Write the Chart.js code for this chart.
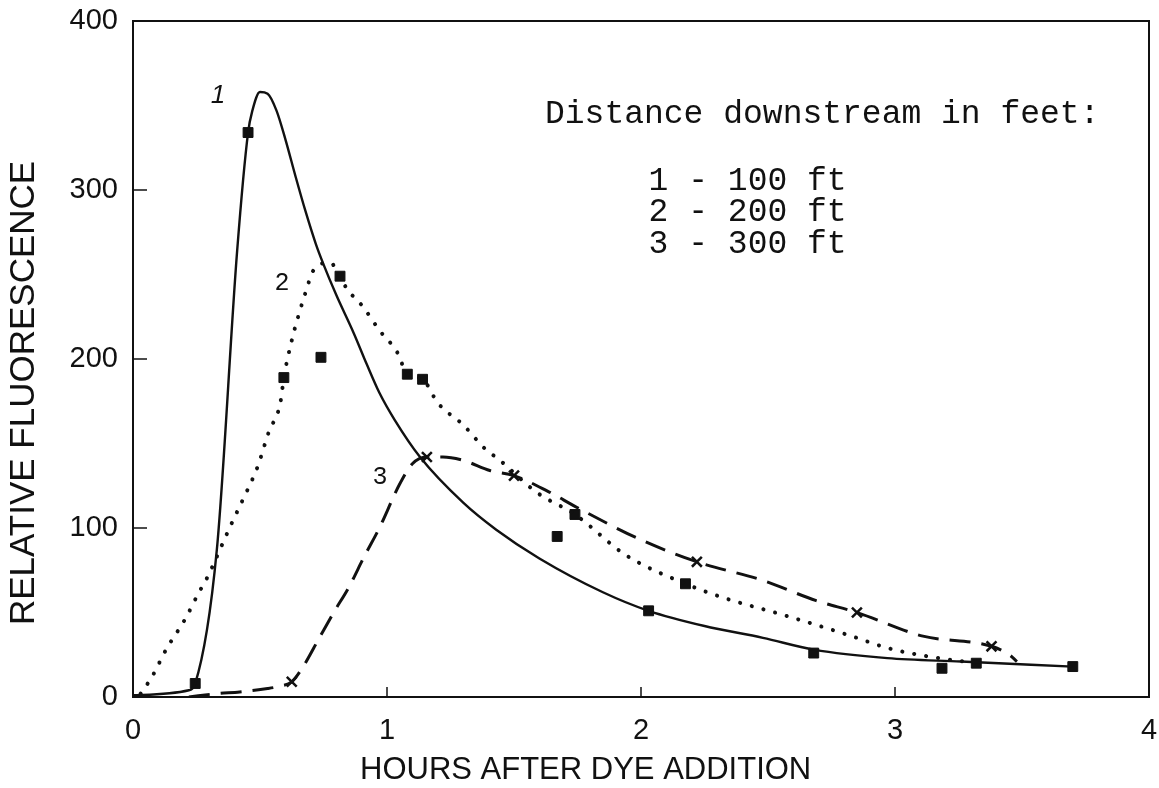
<!DOCTYPE html>
<html>
<head>
<meta charset="utf-8">
<script src="https://cdn.jsdelivr.net/npm/chart.js@4.4.1/dist/chart.umd.min.js"></script>
<style>
  html, body { margin: 0; padding: 0; background: #ffffff; }
  canvas { display: block; }
</style>
</head>
<body>
<canvas id="c" width="1159" height="788"></canvas>
<script>
// ---- Data ----
// Curve 1 (100 ft, solid line)
const curve1Hours  = [0, 0.22, 0.245, 0.33, 0.41, 0.453, 0.47, 0.50, 0.53, 0.565, 0.60, 0.64, 0.68, 0.72, 0.75, 0.80, 0.87, 0.92, 0.97, 1.03, 1.13, 1.30, 1.43, 1.60, 1.85, 2.03, 2.25, 2.48, 2.68, 2.97, 3.26, 3.70];
const curve1Values = [1, 4, 8, 87, 264, 334, 347, 358, 357, 347, 330, 308, 287, 268, 256, 238, 215, 197, 180, 164, 142, 115, 99, 82, 62, 51, 42, 35, 28, 23, 21, 18];
// Curve 2 (200 ft, dotted line)
const curve2Hours  = [0.03, 0.075, 0.13, 0.205, 0.26, 0.29, 0.38, 0.43, 0.49, 0.535, 0.58, 0.594, 0.625, 0.65, 0.685, 0.705, 0.736, 0.776, 0.815, 0.84, 0.905, 0.97, 1.04, 1.08, 1.14, 1.20, 1.30, 1.385, 1.445, 1.59, 1.74, 1.94, 2.175, 2.34, 2.55, 2.83, 2.97, 3.13, 3.32];
const curve2Values = [2, 12, 28, 46, 62, 70, 100, 116, 136, 157, 174, 189, 211, 225, 242, 251, 256, 257, 249, 242, 231, 217, 204, 191, 188, 174, 161, 147, 140, 121, 108, 84, 67, 58, 49, 36, 29, 24, 20];
// Curve 3 (300 ft, dashed line)
const curve3Hours  = [0.22, 0.33, 0.42, 0.53, 0.58, 0.625, 0.67, 0.73, 0.79, 0.85, 0.91, 0.97, 1.05, 1.10, 1.157, 1.22, 1.30, 1.405, 1.50, 1.63, 1.75, 2.00, 2.22, 2.48, 2.69, 2.85, 3.11, 3.38, 3.45, 3.48];
const curve3Values = [0, 2, 3, 5, 6.5, 9, 18, 34, 50, 65, 83, 100, 126, 138, 142, 142, 140, 134, 131, 122, 112, 93, 80, 69, 57, 50, 36, 30, 25, 21];
// Measured points
const points1Hours  = [0.245, 0.453, 2.03, 2.68, 3.185, 3.70];
const points1Values = [8, 334, 51, 26, 17, 18];
const points2Hours  = [0.594, 0.74, 0.815, 1.08, 1.14, 1.67, 1.74, 2.175, 3.32];
const points2Values = [189, 201, 249, 191, 188, 95, 108, 67, 20];
const points3Hours  = [0.625, 1.157, 1.50, 2.22, 2.85, 3.38];
const points3Values = [9, 142, 131, 80, 50, 30];
// Axis ticks and texts
const xTicks = [0, 1, 2, 3, 4];
const yTicks = [0, 100, 200, 300, 400];
const xTitle = 'HOURS AFTER DYE ADDITION';
const yTitle = 'RELATIVE FLUORESCENCE';
const legendTitle = 'Distance downstream in feet:';
const legendLines = ['1 - 100 ft', '2 - 200 ft', '3 - 300 ft'];
const curveLabels = ['1', '2', '3'];

const INK = '#111111';
const SANS = '"Liberation Sans", Arial, sans-serif';
const MONO = '"Liberation Mono", "DejaVu Sans Mono", monospace';
const zip = (xs, ys) => xs.map((x, i) => ({ x: x, y: ys[i] }));

const decorPlugin = {
  id: 'decor',
  afterDraw(chart) {
    const ctx = chart.ctx;
    const a = chart.chartArea;
    const xs = chart.scales.x, ys = chart.scales.y;
    ctx.save();
    // frame
    ctx.strokeStyle = INK;
    ctx.lineWidth = 2;
    ctx.strokeRect(a.left, a.top, a.right - a.left, a.bottom - a.top);
    // inward ticks
    ctx.lineWidth = 1.5;
    xTicks.slice(1, -1).forEach(t => {
      const px = xs.getPixelForValue(t);
      ctx.beginPath(); ctx.moveTo(px, a.bottom); ctx.lineTo(px, a.bottom - 10); ctx.stroke();
    });
    yTicks.slice(1, -1).forEach(t => {
      const py = ys.getPixelForValue(t);
      ctx.beginPath(); ctx.moveTo(a.left, py); ctx.lineTo(a.left + 14, py); ctx.stroke();
    });
    ctx.fillStyle = INK;
    ctx.textBaseline = 'middle';
    // axis titles
    ctx.textAlign = 'left';
    ctx.font = '31px ' + SANS;
    ctx.fillText(xTitle, a.left + 227, a.bottom + 73);
    ctx.save();
    ctx.translate(24, a.bottom - 72);
    ctx.rotate(-Math.PI / 2);
    ctx.font = '35px ' + SANS;
    ctx.fillText(yTitle, 0, 0);
    ctx.restore();
    // legend text (typewriter)
    ctx.font = '33px ' + MONO;
    ctx.fillText(legendTitle, xs.getPixelForValue(1.622), ys.getPixelForValue(345));
    const lv = [305, 287, 268];
    legendLines.forEach((s, i) => {
      ctx.fillText(s, xs.getPixelForValue(2.03), ys.getPixelForValue(lv[i]));
    });
    // curve labels
    ctx.textAlign = 'center';
    ctx.save();
    ctx.translate(xs.getPixelForValue(0.335), ys.getPixelForValue(356));
    ctx.transform(1, 0, -0.2, 1, 0, 0);
    ctx.font = '26px ' + SANS;
    ctx.fillText(curveLabels[0], 0, 0);
    ctx.restore();
    ctx.font = '25px ' + MONO;
    ctx.fillText(curveLabels[1], xs.getPixelForValue(0.587), ys.getPixelForValue(245));
    ctx.fillText(curveLabels[2], xs.getPixelForValue(0.972), ys.getPixelForValue(130));
    ctx.restore();
  }
};

const lineBase = { showLine: true, pointRadius: 0, borderColor: INK, fill: false, cubicInterpolationMode: 'monotone' };
const ptBase = { showLine: false, borderColor: INK, backgroundColor: INK };
const noPad = s => { s.paddingTop = 0; s.paddingBottom = 0; s.paddingLeft = 0; s.paddingRight = 0; };

new Chart(document.getElementById('c'), {
  type: 'scatter',
  data: {
    datasets: [
      Object.assign({ label: '1 - 100 ft', data: zip(curve1Hours, curve1Values), borderWidth: 2.4 }, lineBase),
      Object.assign({ label: '2 - 200 ft', data: zip(curve2Hours, curve2Values), borderWidth: 4, borderDash: [0.1, 12], borderCapStyle: 'round' }, lineBase),
      Object.assign({ label: '3 - 300 ft', data: zip(curve3Hours, curve3Values), borderWidth: 3, borderDash: [21, 11], borderCapStyle: 'butt' }, lineBase),
      Object.assign({ label: 'pts1', data: zip(points1Hours, points1Values), pointStyle: 'rect', pointRadius: 7, borderWidth: 1 }, ptBase),
      Object.assign({ label: 'pts2', data: zip(points2Hours, points2Values), pointStyle: 'rect', pointRadius: 7, borderWidth: 1 }, ptBase),
      Object.assign({ label: 'pts3', data: zip(points3Hours, points3Values), pointStyle: 'crossRot', pointRadius: 7, borderWidth: 2.5 }, ptBase)
    ]
  },
  options: {
    responsive: false,
    devicePixelRatio: 1,
    animation: false,
    layout: { padding: { left: 0, right: 10, top: 21, bottom: 0 } },
    plugins: { legend: { display: false }, tooltip: { enabled: false } },
    scales: {
      x: {
        type: 'linear', min: xTicks[0], max: xTicks[xTicks.length - 1],
        afterBuildTicks: s => { s.ticks = xTicks.map(v => ({ value: v })); },
        grid: { display: false, drawTicks: false },
        border: { display: false },
        ticks: { padding: 17, color: INK, font: { family: SANS, size: 29 } },
        title: { display: false },
        afterFit: s => { s.height = 91; noPad(s); }
      },
      y: {
        type: 'linear', min: yTicks[0], max: yTicks[yTicks.length - 1],
        afterBuildTicks: s => { s.ticks = yTicks.map(v => ({ value: v })); },
        grid: { display: false, drawTicks: false },
        border: { display: false },
        ticks: { padding: 15, color: INK, font: { family: SANS, size: 29 } },
        title: { display: false },
        afterFit: s => { s.width = 133; noPad(s); }
      }
    }
  },
  plugins: [decorPlugin]
});
</script>
</body>
</html>
